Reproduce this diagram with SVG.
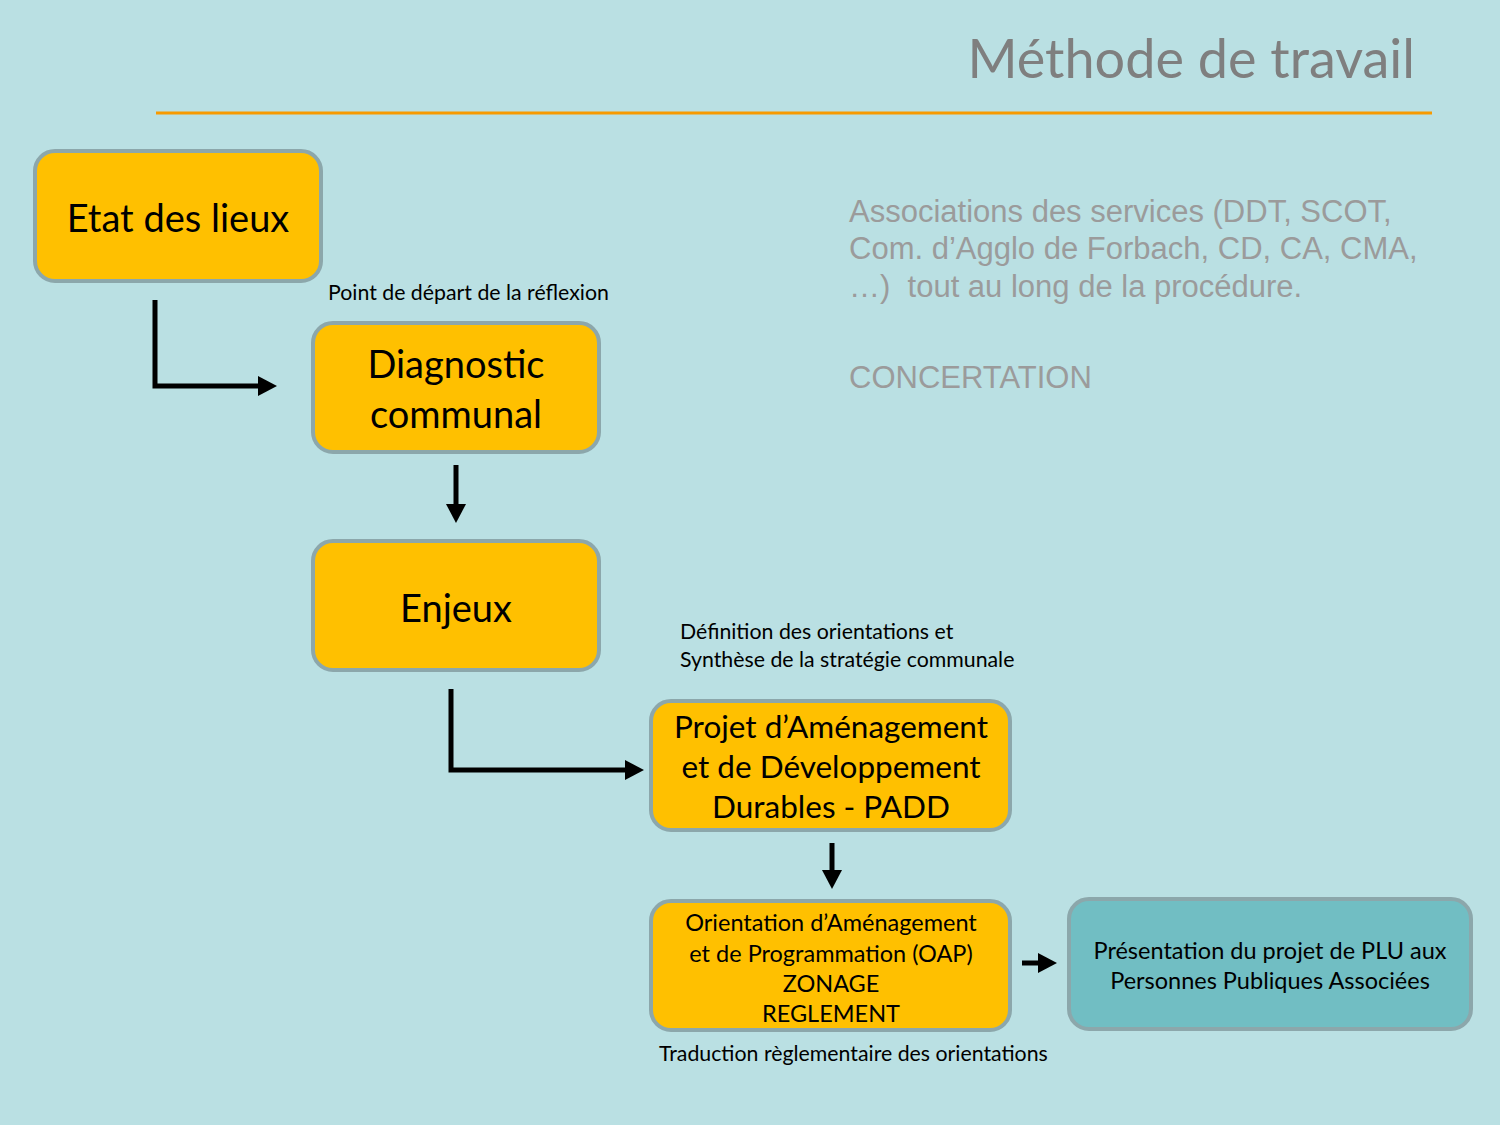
<svg xmlns="http://www.w3.org/2000/svg" width="1500" height="1125" viewBox="0 0 1500 1125">
<style>
.box{fill:#FFC000;stroke:#8CA7AB;stroke-width:4}
.box2{fill:#71BEC3;stroke:#8CA7AB;stroke-width:4}
.t{font-family:Lato,"Open Sans",sans-serif;fill:#000;text-anchor:middle}
.lbl{font-family:Lato,"Open Sans",sans-serif;fill:#000;font-size:21.3px}
.grey{font-family:"Liberation Sans",Arial,sans-serif;fill:#9B9B9B;font-size:31px}
.conn{fill:none;stroke:#000;stroke-width:5}
</style>
<defs>
<path id="ah" d="M0,0 L-19,-10 L-19,10 Z" fill="#000"/>
</defs>
<rect width="1500" height="1125" fill="#BAE0E3"/>
<text x="1415" y="78" font-family="Lato,'Open Sans',sans-serif" font-size="54" fill="#7F7F7F" text-anchor="end">Méthode de travail</text>
<line x1="156" y1="113" x2="1432" y2="113" stroke="#F79A00" stroke-width="3"/>

<g id="connectors">
<path class="conn" d="M155,300 V386 H260"/>
<use href="#ah" transform="translate(277,386)"/>
<path class="conn" d="M456,465 V506"/>
<use href="#ah" transform="translate(456,523) rotate(90)"/>
<path class="conn" d="M451,689 V770 H627"/>
<use href="#ah" transform="translate(644,770)"/>
<path class="conn" d="M832,843 V872"/>
<use href="#ah" transform="translate(832,889) rotate(90)"/>
<path class="conn" d="M1022,963 H1040" stroke-width="7"/>
<use href="#ah" transform="translate(1057,963)"/>
</g>

<g id="etat">
<rect class="box" x="35" y="151" width="286" height="130" rx="20"/>
<text class="t" x="178" y="232" font-size="38">Etat des lieux</text>
</g>
<g id="diagnostic">
<rect class="box" x="313" y="323" width="286" height="129" rx="20"/>
<text class="t" x="456" y="378" font-size="38">Diagnostic</text>
<text class="t" x="456" y="428" font-size="38">communal</text>
</g>
<g id="enjeux">
<rect class="box" x="313" y="541" width="286" height="129" rx="20"/>
<text class="t" x="456" y="622" font-size="38">Enjeux</text>
</g>
<g id="padd">
<rect class="box" x="651" y="701" width="359" height="129" rx="20"/>
<text class="t" x="831" y="738" font-size="31.5">Projet d’Aménagement</text>
<text class="t" x="831" y="778" font-size="31.5">et de Développement</text>
<text class="t" x="831" y="818" font-size="31.5">Durables - PADD</text>
</g>
<g id="oap">
<rect class="box" x="651" y="901" width="359" height="129" rx="20"/>
<text class="t" x="831" y="931" font-size="23.5">Orientation d’Aménagement</text>
<text class="t" x="831" y="962" font-size="23.5">et de Programmation (OAP)</text>
<text class="t" x="831" y="992" font-size="23.5">ZONAGE</text>
<text class="t" x="831" y="1022" font-size="23.5">REGLEMENT</text>
</g>
<g id="ppa">
<rect class="box2" x="1069" y="899" width="402" height="130" rx="20"/>
<text class="t" x="1270" y="959" font-size="23.5">Présentation du projet de PLU aux</text>
<text class="t" x="1270" y="989" font-size="23.5">Personnes Publiques Associées</text>
</g>

<g id="labels">
<text class="lbl" x="328" y="300">Point de départ de la réflexion</text>
<text class="lbl" x="680" y="639">Définition des orientations et</text>
<text class="lbl" x="680" y="667">Synthèse de la stratégie communale</text>
<text class="lbl" x="659" y="1061" font-size="22.5">Traduction règlementaire des orientations</text>
</g>

<g id="notes">
<text class="grey" x="849" y="222">Associations des services (DDT, SCOT,</text>
<text class="grey" x="849" y="259">Com. d’Agglo de Forbach, CD, CA, CMA,</text>
<text class="grey" x="849" y="297" xml:space="preserve">…)  tout au long de la procédure.</text>
<text class="grey" x="849" y="388">CONCERTATION</text>
</g>
</svg>
